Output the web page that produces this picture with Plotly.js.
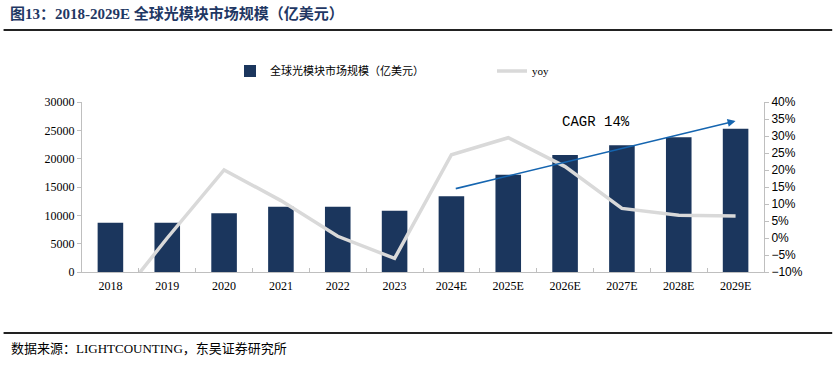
<!DOCTYPE html>
<html>
<head>
<meta charset="utf-8">
<script src="https://cdn.plot.ly/plotly-3.0.1.min.js"></script>
<style>html,body{margin:0;padding:0;background:#fff;}#chart{width:835px;height:368px;}</style>
</head>
<body>
<div id="chart"></div>
<script>
const categories = ['2018','2019','2020','2021','2022','2023','2024E','2025E','2026E','2027E','2028E','2029E'];
const marketSize = [8700, 8700, 10350, 11500, 11500, 10800, 13350, 17150, 20650, 22350, 23800, 25300];
const yoy = [-0.21, 0.0, 0.20, 0.11, 0.005, -0.06, 0.245, 0.295, 0.21, 0.087, 0.067, 0.065];
const barName = '全球光模块市场规模（亿美元）';
const lineName = 'yoy';
const cagrLabel = 'CAGR 14%';
const arrowFrom = {x: 6.05, y: 14650};
const arrowTo = {x: 11, y: 26650};

const serif = 'Liberation Serif, "Noto Sans CJK SC", serif';
const sans = 'Liberation Sans, Arial, sans-serif';

const traces = [
  {type: 'bar', x: categories, y: marketSize, name: barName,
   marker: {color: '#1b365d'}, yaxis: 'y'},
  {type: 'scatter', mode: 'lines', x: categories, y: yoy, name: lineName,
   line: {color: '#d9d9d9', width: 3.5}, yaxis: 'y2'}
];

const layout = {
  width: 835, height: 368,
  margin: {l: 81.5, r: 71, t: 102, b: 96},
  paper_bgcolor: '#fff', plot_bgcolor: '#fff',
  bargap: 0.55,
  showlegend: true,
  legend: {orientation: 'h', xref: 'container', yref: 'container', x: 230/835, y: 1 - 71/368,
           xanchor: 'left', yanchor: 'middle',
           font: {family: serif, size: 11, color: '#000'}, entrywidth: 217, entrywidthmode: 'pixels',
           bgcolor: 'rgba(0,0,0,0)'},
  title: {text: '<b>图13：2018-2029E 全球光模块市场规模（亿美元）</b>', x: 0.012, xanchor: 'left',
          y: 1 - 14/368, yanchor: 'middle', yref: 'container', xref: 'container',
          font: {family: serif, size: 15, color: '#1f3864'}},
  xaxis: {type: 'category', automargin: false, showline: true, linecolor: '#bfbfbf', linewidth: 1,
          ticks: 'inside', tickson: 'boundaries', ticklen: 4, tickcolor: '#bfbfbf',
          ticklabelstandoff: 3,
          showgrid: false, zeroline: false,
          tickfont: {family: serif, size: 12, color: '#000'}},
  yaxis: {range: [0, 30000], dtick: 5000, automargin: false, showline: true, linecolor: '#bfbfbf', linewidth: 1,
          ticks: 'outside', ticklen: 4, tickcolor: '#bfbfbf', showgrid: false, zeroline: false,
          tickformat: 'd', tickfont: {family: serif, size: 12, color: '#000'}},
  yaxis2: {overlaying: 'y', side: 'right', range: [-0.1, 0.4], dtick: 0.05, tickformat: '.0%',
           automargin: false,
           showline: true, linecolor: '#bfbfbf', linewidth: 1, ticks: 'outside', ticklen: 4,
           tickcolor: '#bfbfbf', showgrid: false, zeroline: false,
           tickfont: {family: sans, size: 12, color: '#000'}},
  shapes: [
    {type: 'line', xref: 'paper', yref: 'paper', x0: -0.115, x1: 1.1, y0: (272-30)/170, y1: (272-30)/170,
     line: {color: '#222', width: 2}},
    {type: 'line', xref: 'paper', yref: 'paper', x0: -0.115, x1: 1.1, y0: (272-333)/170, y1: (272-333)/170,
     line: {color: '#222', width: 2}}
  ],
  annotations: [
    {x: arrowTo.x, y: arrowTo.y, ax: arrowFrom.x, ay: arrowFrom.y, xref: 'x', yref: 'y',
     axref: 'x', ayref: 'y', showarrow: true, arrowhead: 2, arrowsize: 1, arrowwidth: 1.6,
     arrowcolor: '#1565b0', text: '', standoff: 0},
    {x: 8.54, y: 26500, xref: 'x', yref: 'y', text: cagrLabel, showarrow: false,
     font: {family: 'Liberation Mono, monospace', size: 14, color: '#000'}},
    {x: -0.107, y: (272-348)/170, xref: 'paper', yref: 'paper', xanchor: 'left', yanchor: 'middle',
     text: '数据来源：LIGHTCOUNTING，东吴证券研究所', showarrow: false,
     font: {family: serif, size: 13, color: '#000'}}
  ]
};

Plotly.newPlot('chart', traces, layout, {displayModeBar: false, staticPlot: true});
</script>
</body>
</html>
